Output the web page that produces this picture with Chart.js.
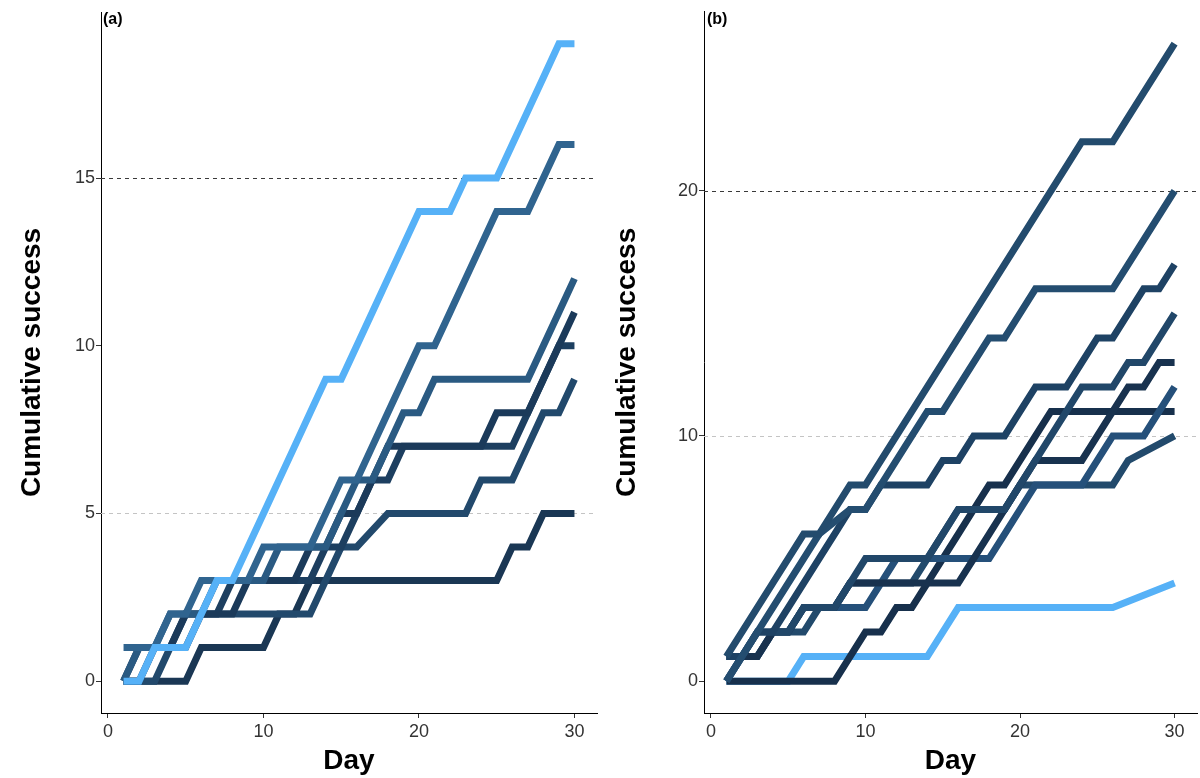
<!DOCTYPE html>
<html><head><meta charset="utf-8">
<script src="https://cdn.jsdelivr.net/npm/chart.js@4.4.1/dist/chart.umd.min.js"></script>
<style>
html,body{margin:0;padding:0;background:#fff;width:1200px;height:778px;overflow:hidden;}
.wrap{position:absolute;top:0;width:600px;height:778px;}
.lbl{position:absolute;top:10px;font:bold 16px "Liberation Sans",Arial,sans-serif;color:#000;}
</style></head><body>
<div class="wrap" style="left:0"><canvas id="ca" width="600" height="778"></canvas></div>
<div class="wrap" style="left:600px"><canvas id="cb" width="600" height="778"></canvas></div>
<div class="lbl" style="left:103px">(a)</div>
<div class="lbl" style="left:707px">(b)</div>
<script>
const days = [1,2,3,4,5,6,7,8,9,10,11,12,13,14,15,16,17,18,19,20,21,22,23,24,25,26,27,28,29,30];
const xTicks = [0,10,20,30];
const yTicksA = [0,5,10,15];
const yTicksB = [0,10,20];
const refA = [5,15];
const refB = [10,20];

// Panel (a) series
const a19 = [0,0,1,1,1,2,3,3,4,5,6,7,8,9,9,10,11,12,13,14,14,14,15,15,15,16,17,18,19,19];
const a16 = [1,1,1,2,2,3,3,3,3,4,4,4,4,5,6,6,7,8,9,10,10,11,12,13,14,14,14,15,16,16];
const a12 = [0,1,1,2,2,2,3,3,3,3,4,4,4,4,5,6,6,7,8,8,9,9,9,9,9,9,9,10,11,12];
const a11 = [0,1,1,1,2,2,2,2,3,3,3,3,4,4,5,5,6,7,7,7,7,7,7,7,8,8,8,9,10,11];
const a10 = [0,0,1,1,1,2,2,3,3,3,3,3,3,4,4,5,6,6,7,7,7,7,7,7,7,7,8,9,10,10];
const a9  = [0,0,0,1,2,2,2,2,2,2,2,2,2,3,4,4,null,5,5,5,5,5,5,6,6,6,7,8,8,9];
const a5  = [0,0,0,0,0,1,1,1,1,1,2,2,3,3,3,3,3,3,3,3,3,3,3,3,3,4,4,5,5,5];

// Panel (b) series
const b26 = [1,2,3,4,5,6,6,7,8,8,9,10,11,12,13,14,15,16,17,18,19,20,21,22,22,22,23,24,25,26];
const b20 = [0,1,2,3,4,5,6,null,7,7,8,9,10,11,11,12,13,14,14,15,16,16,16,16,16,16,17,18,19,20];
const b17 = [1,1,2,2,3,4,5,6,7,7,8,8,8,8,9,9,10,10,10,11,12,12,12,13,14,14,15,16,16,17];
const b15 = [1,1,2,2,2,3,3,3,4,5,5,5,5,5,6,7,7,7,7,8,9,10,11,12,12,12,13,13,14,15];
const b13 = [1,1,1,2,2,3,3,3,4,4,4,4,4,4,4,4,5,6,7,8,9,9,9,9,10,11,12,12,13,13];
const b12 = [0,1,1,2,2,3,3,3,3,3,4,5,5,5,5,5,5,5,6,7,8,8,8,8,9,10,10,10,11,12];
const b11 = [0,0,0,0,0,0,0,0,1,2,2,3,3,4,5,6,7,8,8,9,10,11,11,11,11,11,11,11,11,11];
const b10 = [0,1,1,2,2,2,3,3,4,4,4,4,4,5,6,7,7,7,7,8,8,8,8,8,8,8,9,null,null,10];
const b4  = [0,0,0,0,0,1,1,1,1,1,1,1,1,1,null,3,3,3,3,3,3,3,3,3,3,3,null,null,null,4];

function pts(vals){ return vals.map((v,i)=>({x:days[i], y:v})); }
function ds(vals,color){
  return {data:pts(vals), borderColor:color, backgroundColor:color, borderWidth:7,
    pointRadius:0, pointHoverRadius:0, fill:false, tension:0, spanGaps:true,
    borderCapStyle:'butt', borderJoinStyle:'miter'};
}

const refPlugin = {
  id:'refLines',
  beforeDatasetsDraw(chart, args, opts){
    const {ctx, chartArea:{left,right}, scales:{y}} = chart;
    ctx.save();
    opts.lines.forEach((v,i)=>{
      const py = Math.round(y.getPixelForValue(v))+0.5;
      ctx.beginPath();
      ctx.setLineDash([4,4]);
      ctx.lineWidth = 1;
      ctx.strokeStyle = i===0 ? '#c4c4c4' : '#3a3a3a';
      ctx.moveTo(left,py); ctx.lineTo(right,py); ctx.stroke();
    });
    ctx.restore();
  }
};

function makeChart(id, datasets, yMin, yMax, yTicks, refs, yAxisW, padTop, titlePad){
  return new Chart(document.getElementById(id), {
    type:'line',
    data:{datasets},
    plugins:[refPlugin],
    options:{
      responsive:false, animation:false, devicePixelRatio:1,
      layout:{padding:{top:padTop,right:3,left:0,bottom:0}},
      plugins:{legend:{display:false}, tooltip:{enabled:false}, refLines:{lines:refs}},
      scales:{
        x:{type:'linear', min:-0.45, max:31.45,
          afterBuildTicks(s){ s.ticks = xTicks.map(v=>({value:v})); },
          afterFit(s){ s.height = 65; },
          grid:{drawOnChartArea:false, drawTicks:true, tickLength:5, color:'#000', tickColor:'#333'},
          border:{display:true, color:'#000', width:1},
          ticks:{color:'#333', font:{family:'Liberation Sans, Arial', size:18}, padding:3, maxRotation:0},
          title:{display:true, text:'Day', color:'#000', font:{family:'Liberation Sans, Arial', size:28, weight:'bold'}, padding:{top:3,bottom:0}}
        },
        y:{type:'linear', min:yMin, max:yMax,
          afterBuildTicks(s){ s.ticks = yTicks.map(v=>({value:v})); },
          afterFit(s){ s.width = yAxisW; },
          grid:{drawOnChartArea:false, drawTicks:true, tickLength:5, color:'#000', tickColor:'#333'},
          border:{display:true, color:'#000', width:1},
          ticks:{color:'#333', font:{family:'Liberation Sans, Arial', size:18}, padding:1},
          title:{display:true, text:'Cumulative success', color:'#000', font:{family:'Liberation Sans, Arial', size:28, weight:'bold'}, padding:{top:titlePad,bottom:0}}
        }
      }
    }
  });
}

makeChart('ca', [
  ds(a19,'#56B1F7'), ds(a16,'#30648F'), ds(a12,'#2A5A82'), ds(a11,'#1B3A5A'),
  ds(a10,'#1D3F60'), ds(a9,'#22496C'), ds(a5,'#1A3754')
], -0.95, 19.95, yTicksA, refA, 101, 12, 15);

makeChart('cb', [
  ds(b26,'#234B6D'), ds(b20,'#244D70'), ds(b17,'#1E4264'), ds(b15,'#214769'),
  ds(b13,'#18324F'), ds(b12,'#25507A'), ds(b11,'#17304C'), ds(b10,'#224A6C'), ds(b4,'#56B1F7')
], -1.3, 27.3, yTicksB, refB, 104, 10, 10);
</script>
</body></html>
